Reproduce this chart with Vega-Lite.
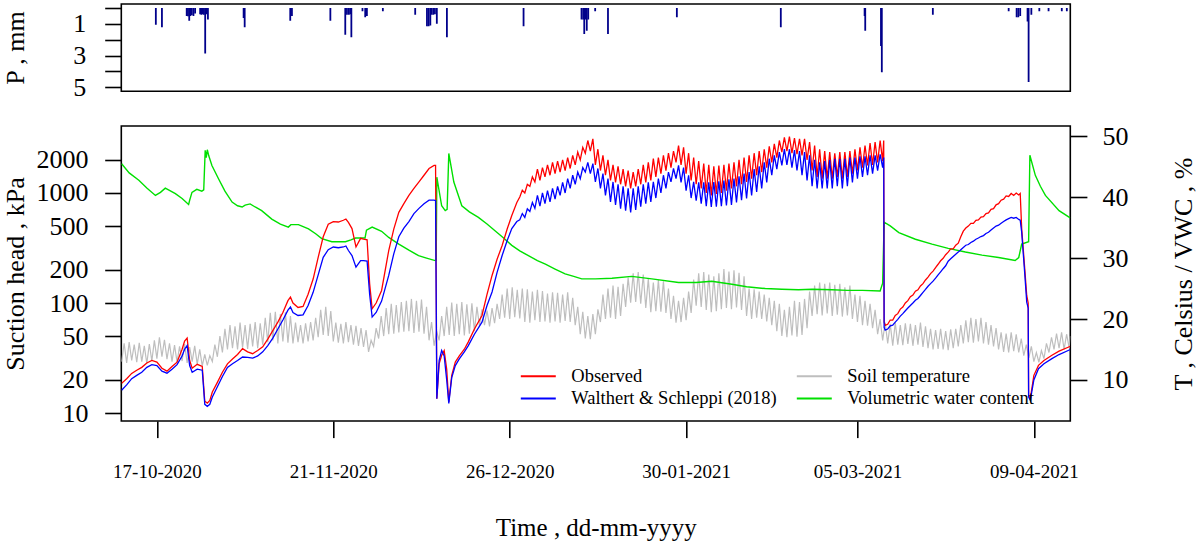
{
  "$schema": "https://vega.github.io/schema/vega-lite/v6.json",
  "padding": {"left": 1.3, "top": 3, "right": 0, "bottom": 0},
  "config": {
    "font": "Liberation Serif",
    "view": {"stroke": "black", "strokeWidth": 1.6},
    "axis": {
      "grid": false, "domain": false, "tickColor": "black", "tickWidth": 1.6, "tickSize": 16.6,
      "labelColor": "black", "titleColor": "black", "titleFontWeight": "normal",
      "labelFontSize": 26, "titleFontSize": 26, "labelFont": "Liberation Serif", "titleFont": "Liberation Serif"
    },
    "legend": {"labelFont": "Liberation Serif", "labelColor": "black"}
  },
  "datasets": {
    "rain": [
      {"t":"2020-10-16 19:00","p":1.05},{"t":"2020-10-18 00:00","p":1.22},
      {"t":"2020-10-22 22:00","p":0.5},{"t":"2020-10-23 04:00","p":0.52},{"t":"2020-10-23 10:00","p":0.8},{"t":"2020-10-23 16:00","p":0.5},{"t":"2020-10-23 22:00","p":0.45},{"t":"2020-10-24 06:00","p":0.5},{"t":"2020-10-24 14:00","p":0.35},
      {"t":"2020-10-25 14:00","p":0.4},{"t":"2020-10-25 20:00","p":0.42},{"t":"2020-10-26 02:00","p":0.4},{"t":"2020-10-26 08:00","p":0.42},{"t":"2020-10-26 14:00","p":2.87},{"t":"2020-10-26 20:00","p":0.4},{"t":"2020-10-27 03:00","p":0.73},
      {"t":"2020-11-03 05:00","p":0.63},{"t":"2020-11-03 10:00","p":1.22},
      {"t":"2020-11-12 11:00","p":0.8},{"t":"2020-11-12 19:00","p":0.5},
      {"t":"2020-11-20 10:00","p":0.8},
      {"t":"2020-11-23 09:00","p":1.68},{"t":"2020-11-23 17:00","p":0.42},{"t":"2020-11-24 02:00","p":0.42},{"t":"2020-11-24 09:00","p":0.4},{"t":"2020-11-24 14:00","p":1.85},
      {"t":"2020-11-26 19:00","p":0.21},{"t":"2020-11-27 08:00","p":0.58},{"t":"2020-11-27 16:00","p":0.5},
      {"t":"2020-11-30 20:00","p":0.2},
      {"t":"2020-12-07 06:00","p":0.42},
      {"t":"2020-12-09 14:00","p":1.15},{"t":"2020-12-09 22:00","p":1.15},{"t":"2020-12-10 06:00","p":1.1},{"t":"2020-12-10 12:00","p":0.42},{"t":"2020-12-10 20:00","p":0.42},{"t":"2020-12-11 04:00","p":0.4},{"t":"2020-12-11 13:00","p":1.0},
      {"t":"2020-12-13 13:00","p":1.85},
      {"t":"2020-12-28 18:00","p":1.15},
      {"t":"2021-01-09 06:00","p":0.73},{"t":"2021-01-09 14:00","p":0.73},{"t":"2021-01-09 19:00","p":1.64},{"t":"2021-01-10 02:00","p":0.73},{"t":"2021-01-10 07:00","p":1.43},{"t":"2021-01-10 14:00","p":0.73},
      {"t":"2021-01-11 23:00","p":0.2},
      {"t":"2021-01-14 12:00","p":1.64},
      {"t":"2021-01-28 04:00","p":0.58},
      {"t":"2021-02-17 19:00","p":1.22},
      {"t":"2021-03-06 10:00","p":0.5},{"t":"2021-03-06 13:00","p":1.43},
      {"t":"2021-03-09 16:00","p":2.4},{"t":"2021-03-09 20:00","p":4.05},
      {"t":"2021-03-19 23:00","p":0.42},
      {"t":"2021-04-04 00:00","p":0.2},
      {"t":"2021-04-05 14:00","p":0.58},{"t":"2021-04-05 22:00","p":0.58},{"t":"2021-04-06 07:00","p":0.5},
      {"t":"2021-04-07 18:00","p":0.85},{"t":"2021-04-07 23:00","p":4.66},{"t":"2021-04-08 12:00","p":0.42},
      {"t":"2021-04-10 02:00","p":0.2},{"t":"2021-04-11 22:00","p":0.2},{"t":"2021-04-14 13:00","p":0.2},{"t":"2021-04-15 13:00","p":0.2}
    ],
    "soil": [
      {"t":"2020-10-10 00:00","v":13.0},{"t":"2020-10-10 12:00","v":16.0},
      {"t":"2020-10-11 00:00","v":12.8},{"t":"2020-10-11 12:00","v":16.2},
      {"t":"2020-10-12 00:00","v":13.2},{"t":"2020-10-12 12:00","v":15.8},
      {"t":"2020-10-13 00:00","v":12.9},{"t":"2020-10-13 12:00","v":16.1},
      {"t":"2020-10-14 00:00","v":13.0},{"t":"2020-10-14 12:00","v":15.6},
      {"t":"2020-10-15 00:00","v":12.7},{"t":"2020-10-15 12:00","v":15.9},
      {"t":"2020-10-16 00:00","v":13.1},{"t":"2020-10-16 12:00","v":16.5},
      {"t":"2020-10-17 00:00","v":13.5},{"t":"2020-10-17 12:00","v":17.0},
      {"t":"2020-10-18 00:00","v":13.8},{"t":"2020-10-18 12:00","v":16.6},
      {"t":"2020-10-19 00:00","v":13.4},{"t":"2020-10-19 12:00","v":16.0},
      {"t":"2020-10-20 00:00","v":13.0},{"t":"2020-10-20 12:00","v":15.7},
      {"t":"2020-10-21 00:00","v":12.9},{"t":"2020-10-21 12:00","v":15.5},
      {"t":"2020-10-22 00:00","v":13.1},{"t":"2020-10-22 12:00","v":15.9},
      {"t":"2020-10-23 00:00","v":12.8},{"t":"2020-10-23 12:00","v":15.4},
      {"t":"2020-10-24 00:00","v":13.0},{"t":"2020-10-24 12:00","v":15.6},
      {"t":"2020-10-25 00:00","v":12.6},{"t":"2020-10-25 12:00","v":15.0},
      {"t":"2020-10-26 00:00","v":12.3},{"t":"2020-10-26 12:00","v":14.2},
      {"t":"2020-10-27 00:00","v":12.4},{"t":"2020-10-27 12:00","v":14.0},
      {"t":"2020-10-28 00:00","v":13.0},{"t":"2020-10-28 12:00","v":15.8},
      {"t":"2020-10-29 00:00","v":13.8},{"t":"2020-10-29 12:00","v":17.2},
      {"t":"2020-10-30 00:00","v":14.5},{"t":"2020-10-30 12:00","v":18.4},
      {"t":"2020-10-31 00:00","v":15.0},{"t":"2020-10-31 12:00","v":19.0},
      {"t":"2020-11-01 00:00","v":15.2},{"t":"2020-11-01 12:00","v":18.8},
      {"t":"2020-11-02 00:00","v":15.0},{"t":"2020-11-02 12:00","v":19.4},
      {"t":"2020-11-03 00:00","v":15.3},{"t":"2020-11-03 12:00","v":19.0},
      {"t":"2020-11-04 00:00","v":15.1},{"t":"2020-11-04 12:00","v":19.2},
      {"t":"2020-11-05 00:00","v":15.5},{"t":"2020-11-05 12:00","v":19.5},
      {"t":"2020-11-06 00:00","v":15.2},{"t":"2020-11-06 12:00","v":19.3},
      {"t":"2020-11-07 00:00","v":15.8},{"t":"2020-11-07 12:00","v":20.2},
      {"t":"2020-11-08 00:00","v":16.2},{"t":"2020-11-08 12:00","v":21.0},
      {"t":"2020-11-09 00:00","v":16.5},{"t":"2020-11-09 12:00","v":21.2},
      {"t":"2020-11-10 00:00","v":16.0},{"t":"2020-11-10 12:00","v":20.8},
      {"t":"2020-11-11 00:00","v":16.3},{"t":"2020-11-11 12:00","v":21.1},
      {"t":"2020-11-12 00:00","v":16.1},{"t":"2020-11-12 12:00","v":20.5},
      {"t":"2020-11-13 00:00","v":16.0},{"t":"2020-11-13 12:00","v":19.4},
      {"t":"2020-11-14 00:00","v":16.2},{"t":"2020-11-14 12:00","v":19.0},
      {"t":"2020-11-15 00:00","v":16.0},{"t":"2020-11-15 12:00","v":19.3},
      {"t":"2020-11-16 00:00","v":16.3},{"t":"2020-11-16 12:00","v":19.5},
      {"t":"2020-11-17 00:00","v":16.5},{"t":"2020-11-17 12:00","v":20.2},
      {"t":"2020-11-18 00:00","v":17.0},{"t":"2020-11-18 12:00","v":21.5},
      {"t":"2020-11-19 00:00","v":17.4},{"t":"2020-11-19 12:00","v":22.0},
      {"t":"2020-11-20 00:00","v":17.2},{"t":"2020-11-20 12:00","v":21.3},
      {"t":"2020-11-21 00:00","v":16.3},{"t":"2020-11-21 12:00","v":19.4},
      {"t":"2020-11-22 00:00","v":16.1},{"t":"2020-11-22 12:00","v":19.2},
      {"t":"2020-11-23 00:00","v":16.0},{"t":"2020-11-23 12:00","v":19.5},
      {"t":"2020-11-24 00:00","v":16.2},{"t":"2020-11-24 12:00","v":19.0},
      {"t":"2020-11-25 00:00","v":15.8},{"t":"2020-11-25 12:00","v":18.9},
      {"t":"2020-11-26 00:00","v":15.6},{"t":"2020-11-26 12:00","v":18.5},
      {"t":"2020-11-27 00:00","v":15.4},{"t":"2020-11-27 12:00","v":18.2},
      {"t":"2020-11-28 00:00","v":14.6},{"t":"2020-11-28 12:00","v":16.5},
      {"t":"2020-11-29 00:00","v":15.5},{"t":"2020-11-29 12:00","v":18.5},
      {"t":"2020-11-30 00:00","v":16.8},{"t":"2020-11-30 12:00","v":20.5},
      {"t":"2020-12-01 00:00","v":17.2},{"t":"2020-12-01 12:00","v":21.8},
      {"t":"2020-12-02 00:00","v":17.5},{"t":"2020-12-02 12:00","v":22.5},
      {"t":"2020-12-03 00:00","v":17.6},{"t":"2020-12-03 12:00","v":22.3},
      {"t":"2020-12-04 00:00","v":17.8},{"t":"2020-12-04 12:00","v":22.8},
      {"t":"2020-12-05 00:00","v":17.9},{"t":"2020-12-05 12:00","v":23.0},
      {"t":"2020-12-06 00:00","v":18.0},{"t":"2020-12-06 12:00","v":23.3},
      {"t":"2020-12-07 00:00","v":17.7},{"t":"2020-12-07 12:00","v":23.0},
      {"t":"2020-12-08 00:00","v":17.9},{"t":"2020-12-08 12:00","v":23.2},
      {"t":"2020-12-09 00:00","v":17.6},{"t":"2020-12-09 12:00","v":22.0},
      {"t":"2020-12-10 00:00","v":16.5},{"t":"2020-12-10 12:00","v":19.5},
      {"t":"2020-12-11 00:00","v":15.6},{"t":"2020-12-11 12:00","v":18.0},
      {"t":"2020-12-12 00:00","v":16.5},{"t":"2020-12-12 12:00","v":20.5},
      {"t":"2020-12-13 00:00","v":17.2},{"t":"2020-12-13 12:00","v":22.0},
      {"t":"2020-12-14 00:00","v":17.4},{"t":"2020-12-14 12:00","v":22.7},
      {"t":"2020-12-15 00:00","v":17.2},{"t":"2020-12-15 12:00","v":22.5},
      {"t":"2020-12-16 00:00","v":17.5},{"t":"2020-12-16 12:00","v":22.8},
      {"t":"2020-12-17 00:00","v":17.3},{"t":"2020-12-17 12:00","v":22.4},
      {"t":"2020-12-18 00:00","v":17.6},{"t":"2020-12-18 12:00","v":22.6},
      {"t":"2020-12-19 00:00","v":18.0},{"t":"2020-12-19 12:00","v":22.0},
      {"t":"2020-12-20 00:00","v":18.9},{"t":"2020-12-20 12:00","v":21.6},
      {"t":"2020-12-21 00:00","v":19.0},{"t":"2020-12-21 12:00","v":21.4},
      {"t":"2020-12-22 00:00","v":18.8},{"t":"2020-12-22 12:00","v":21.8},
      {"t":"2020-12-23 00:00","v":19.3},{"t":"2020-12-23 12:00","v":22.5},
      {"t":"2020-12-24 00:00","v":20.0},{"t":"2020-12-24 12:00","v":24.0},
      {"t":"2020-12-25 00:00","v":20.2},{"t":"2020-12-25 12:00","v":25.0},
      {"t":"2020-12-26 00:00","v":20.0},{"t":"2020-12-26 12:00","v":25.2},
      {"t":"2020-12-27 00:00","v":20.3},{"t":"2020-12-27 12:00","v":24.8},
      {"t":"2020-12-28 00:00","v":20.1},{"t":"2020-12-28 12:00","v":25.0},
      {"t":"2020-12-29 00:00","v":19.5},{"t":"2020-12-29 12:00","v":24.9},
      {"t":"2020-12-30 00:00","v":19.4},{"t":"2020-12-30 12:00","v":24.5},
      {"t":"2020-12-31 00:00","v":19.8},{"t":"2020-12-31 12:00","v":24.8},
      {"t":"2021-01-01 00:00","v":19.5},{"t":"2021-01-01 12:00","v":24.6},
      {"t":"2021-01-02 00:00","v":19.6},{"t":"2021-01-02 12:00","v":24.2},
      {"t":"2021-01-03 00:00","v":19.4},{"t":"2021-01-03 12:00","v":24.4},
      {"t":"2021-01-04 00:00","v":19.6},{"t":"2021-01-04 12:00","v":24.3},
      {"t":"2021-01-05 00:00","v":19.4},{"t":"2021-01-05 12:00","v":24.0},
      {"t":"2021-01-06 00:00","v":19.7},{"t":"2021-01-06 12:00","v":24.4},
      {"t":"2021-01-07 00:00","v":19.5},{"t":"2021-01-07 12:00","v":23.5},
      {"t":"2021-01-08 00:00","v":19.0},{"t":"2021-01-08 12:00","v":22.0},
      {"t":"2021-01-09 00:00","v":17.5},{"t":"2021-01-09 12:00","v":21.2},
      {"t":"2021-01-10 00:00","v":16.8},{"t":"2021-01-10 12:00","v":20.5},
      {"t":"2021-01-11 00:00","v":16.7},{"t":"2021-01-11 12:00","v":20.8},
      {"t":"2021-01-12 00:00","v":17.5},{"t":"2021-01-12 12:00","v":21.6},
      {"t":"2021-01-13 00:00","v":19.5},{"t":"2021-01-13 12:00","v":24.0},
      {"t":"2021-01-14 00:00","v":20.0},{"t":"2021-01-14 12:00","v":25.0},
      {"t":"2021-01-15 00:00","v":20.2},{"t":"2021-01-15 12:00","v":25.5},
      {"t":"2021-01-16 00:00","v":20.0},{"t":"2021-01-16 12:00","v":25.3},
      {"t":"2021-01-17 00:00","v":20.5},{"t":"2021-01-17 12:00","v":25.8},
      {"t":"2021-01-18 00:00","v":22.0},{"t":"2021-01-18 12:00","v":26.8},
      {"t":"2021-01-19 00:00","v":22.7},{"t":"2021-01-19 12:00","v":27.5},
      {"t":"2021-01-20 00:00","v":22.8},{"t":"2021-01-20 12:00","v":27.7},
      {"t":"2021-01-21 00:00","v":22.5},{"t":"2021-01-21 12:00","v":27.3},
      {"t":"2021-01-22 00:00","v":21.8},{"t":"2021-01-22 12:00","v":26.6},
      {"t":"2021-01-23 00:00","v":21.1},{"t":"2021-01-23 12:00","v":26.0},
      {"t":"2021-01-24 00:00","v":21.3},{"t":"2021-01-24 12:00","v":26.4},
      {"t":"2021-01-25 00:00","v":21.2},{"t":"2021-01-25 12:00","v":26.2},
      {"t":"2021-01-26 00:00","v":21.0},{"t":"2021-01-26 12:00","v":25.0},
      {"t":"2021-01-27 00:00","v":20.0},{"t":"2021-01-27 12:00","v":23.8},
      {"t":"2021-01-28 00:00","v":19.4},{"t":"2021-01-28 12:00","v":23.0},
      {"t":"2021-01-29 00:00","v":19.5},{"t":"2021-01-29 12:00","v":23.5},
      {"t":"2021-01-30 00:00","v":19.8},{"t":"2021-01-30 12:00","v":24.5},
      {"t":"2021-01-31 00:00","v":21.0},{"t":"2021-01-31 12:00","v":26.5},
      {"t":"2021-02-01 00:00","v":22.2},{"t":"2021-02-01 12:00","v":27.5},
      {"t":"2021-02-02 00:00","v":22.0},{"t":"2021-02-02 12:00","v":27.7},
      {"t":"2021-02-03 00:00","v":21.5},{"t":"2021-02-03 12:00","v":27.3},
      {"t":"2021-02-04 00:00","v":21.1},{"t":"2021-02-04 12:00","v":27.0},
      {"t":"2021-02-05 00:00","v":21.3},{"t":"2021-02-05 12:00","v":27.5},
      {"t":"2021-02-06 00:00","v":21.6},{"t":"2021-02-06 12:00","v":28.2},
      {"t":"2021-02-07 00:00","v":21.8},{"t":"2021-02-07 12:00","v":27.8},
      {"t":"2021-02-08 00:00","v":21.6},{"t":"2021-02-08 12:00","v":28.0},
      {"t":"2021-02-09 00:00","v":21.9},{"t":"2021-02-09 12:00","v":27.6},
      {"t":"2021-02-10 00:00","v":21.5},{"t":"2021-02-10 12:00","v":27.0},
      {"t":"2021-02-11 00:00","v":20.5},{"t":"2021-02-11 12:00","v":25.0},
      {"t":"2021-02-12 00:00","v":20.0},{"t":"2021-02-12 12:00","v":24.9},
      {"t":"2021-02-13 00:00","v":20.2},{"t":"2021-02-13 12:00","v":24.5},
      {"t":"2021-02-14 00:00","v":20.0},{"t":"2021-02-14 12:00","v":24.0},
      {"t":"2021-02-15 00:00","v":19.6},{"t":"2021-02-15 12:00","v":23.5},
      {"t":"2021-02-16 00:00","v":19.0},{"t":"2021-02-16 12:00","v":23.0},
      {"t":"2021-02-17 00:00","v":18.0},{"t":"2021-02-17 12:00","v":22.5},
      {"t":"2021-02-18 00:00","v":17.2},{"t":"2021-02-18 12:00","v":21.5},
      {"t":"2021-02-19 00:00","v":17.0},{"t":"2021-02-19 12:00","v":22.0},
      {"t":"2021-02-20 00:00","v":17.3},{"t":"2021-02-20 12:00","v":23.0},
      {"t":"2021-02-21 00:00","v":17.1},{"t":"2021-02-21 12:00","v":22.8},
      {"t":"2021-02-22 00:00","v":17.4},{"t":"2021-02-22 12:00","v":23.3},
      {"t":"2021-02-23 00:00","v":18.5},{"t":"2021-02-23 12:00","v":24.5},
      {"t":"2021-02-24 00:00","v":20.5},{"t":"2021-02-24 12:00","v":25.5},
      {"t":"2021-02-25 00:00","v":20.8},{"t":"2021-02-25 12:00","v":26.0},
      {"t":"2021-02-26 00:00","v":20.6},{"t":"2021-02-26 12:00","v":25.8},
      {"t":"2021-02-27 00:00","v":20.9},{"t":"2021-02-27 12:00","v":26.0},
      {"t":"2021-02-28 00:00","v":20.5},{"t":"2021-02-28 12:00","v":25.6},
      {"t":"2021-03-01 00:00","v":20.7},{"t":"2021-03-01 12:00","v":25.8},
      {"t":"2021-03-02 00:00","v":20.4},{"t":"2021-03-02 12:00","v":25.2},
      {"t":"2021-03-03 00:00","v":20.6},{"t":"2021-03-03 12:00","v":25.5},
      {"t":"2021-03-04 00:00","v":20.0},{"t":"2021-03-04 12:00","v":24.0},
      {"t":"2021-03-05 00:00","v":19.5},{"t":"2021-03-05 12:00","v":23.8},
      {"t":"2021-03-06 00:00","v":19.0},{"t":"2021-03-06 12:00","v":23.0},
      {"t":"2021-03-07 00:00","v":18.9},{"t":"2021-03-07 12:00","v":22.5},
      {"t":"2021-03-08 00:00","v":18.5},{"t":"2021-03-08 12:00","v":21.5},
      {"t":"2021-03-09 00:00","v":17.5},{"t":"2021-03-09 12:00","v":20.0},
      {"t":"2021-03-10 00:00","v":16.5},{"t":"2021-03-10 12:00","v":19.4},
      {"t":"2021-03-11 00:00","v":16.0},{"t":"2021-03-11 12:00","v":19.2},
      {"t":"2021-03-12 00:00","v":15.6},{"t":"2021-03-12 12:00","v":19.4},
      {"t":"2021-03-13 00:00","v":15.8},{"t":"2021-03-13 12:00","v":19.0},
      {"t":"2021-03-14 00:00","v":15.7},{"t":"2021-03-14 12:00","v":19.3},
      {"t":"2021-03-15 00:00","v":15.9},{"t":"2021-03-15 12:00","v":19.2},
      {"t":"2021-03-16 00:00","v":15.6},{"t":"2021-03-16 12:00","v":19.0},
      {"t":"2021-03-17 00:00","v":15.8},{"t":"2021-03-17 12:00","v":19.4},
      {"t":"2021-03-18 00:00","v":15.4},{"t":"2021-03-18 12:00","v":18.8},
      {"t":"2021-03-19 00:00","v":15.2},{"t":"2021-03-19 12:00","v":18.4},
      {"t":"2021-03-20 00:00","v":15.0},{"t":"2021-03-20 12:00","v":18.2},
      {"t":"2021-03-21 00:00","v":15.1},{"t":"2021-03-21 12:00","v":18.4},
      {"t":"2021-03-22 00:00","v":15.0},{"t":"2021-03-22 12:00","v":18.0},
      {"t":"2021-03-23 00:00","v":14.9},{"t":"2021-03-23 12:00","v":18.3},
      {"t":"2021-03-24 00:00","v":15.2},{"t":"2021-03-24 12:00","v":18.4},
      {"t":"2021-03-25 00:00","v":15.5},{"t":"2021-03-25 12:00","v":19.0},
      {"t":"2021-03-26 00:00","v":16.0},{"t":"2021-03-26 12:00","v":19.8},
      {"t":"2021-03-27 00:00","v":16.2},{"t":"2021-03-27 12:00","v":20.2},
      {"t":"2021-03-28 00:00","v":16.1},{"t":"2021-03-28 12:00","v":20.0},
      {"t":"2021-03-29 00:00","v":16.3},{"t":"2021-03-29 12:00","v":20.2},
      {"t":"2021-03-30 00:00","v":16.0},{"t":"2021-03-30 12:00","v":19.5},
      {"t":"2021-03-31 00:00","v":15.8},{"t":"2021-03-31 12:00","v":19.0},
      {"t":"2021-04-01 00:00","v":15.5},{"t":"2021-04-01 12:00","v":18.5},
      {"t":"2021-04-02 00:00","v":15.0},{"t":"2021-04-02 12:00","v":17.8},
      {"t":"2021-04-03 00:00","v":14.6},{"t":"2021-04-03 12:00","v":17.6},
      {"t":"2021-04-04 00:00","v":14.5},{"t":"2021-04-04 12:00","v":17.8},
      {"t":"2021-04-05 00:00","v":14.7},{"t":"2021-04-05 12:00","v":17.5},
      {"t":"2021-04-06 00:00","v":14.5},{"t":"2021-04-06 12:00","v":16.8},
      {"t":"2021-04-07 00:00","v":14.0},{"t":"2021-04-07 12:00","v":15.8},
      {"t":"2021-04-08 00:00","v":13.6},{"t":"2021-04-08 12:00","v":15.5},
      {"t":"2021-04-09 00:00","v":13.0},{"t":"2021-04-09 12:00","v":14.5},
      {"t":"2021-04-10 00:00","v":12.9},{"t":"2021-04-10 12:00","v":14.8},
      {"t":"2021-04-11 00:00","v":13.5},{"t":"2021-04-11 12:00","v":16.0},
      {"t":"2021-04-12 00:00","v":14.5},{"t":"2021-04-12 12:00","v":17.0},
      {"t":"2021-04-13 00:00","v":15.0},{"t":"2021-04-13 12:00","v":17.6},
      {"t":"2021-04-14 00:00","v":15.2},{"t":"2021-04-14 12:00","v":17.8},
      {"t":"2021-04-15 00:00","v":15.0},{"t":"2021-04-15 12:00","v":17.5},
      {"t":"2021-04-16 00:00","v":15.3},{"t":"2021-04-16 06:00","v":17.2}
    ],
    "vwc": [
      {"t":"2020-10-10 00:00","v":45.5},{"t":"2020-10-11 12:00","v":44.0},{"t":"2020-10-13 10:00","v":42.8},{"t":"2020-10-15 00:00","v":41.5},
      {"t":"2020-10-16 17:00","v":40.3},{"t":"2020-10-17 17:00","v":40.8},{"t":"2020-10-18 16:00","v":41.5},{"t":"2020-10-20 16:00","v":40.6},
      {"t":"2020-10-22 00:00","v":39.8},{"t":"2020-10-23 07:00","v":38.8},{"t":"2020-10-23 12:00","v":39.5},{"t":"2020-10-23 23:00","v":40.8},
      {"t":"2020-10-24 22:00","v":41.3},{"t":"2020-10-25 22:00","v":41.0},{"t":"2020-10-26 07:00","v":41.2},{"t":"2020-10-26 14:00","v":47.7},
      {"t":"2020-10-26 19:00","v":46.5},{"t":"2020-10-27 00:00","v":47.8},{"t":"2020-10-27 07:00","v":46.8},{"t":"2020-10-27 22:00","v":45.2},
      {"t":"2020-10-29 06:00","v":43.0},{"t":"2020-10-30 12:00","v":41.0},{"t":"2020-10-31 22:00","v":39.2},{"t":"2020-11-02 00:00","v":38.6},
      {"t":"2020-11-02 22:00","v":38.4},{"t":"2020-11-03 12:00","v":38.7},{"t":"2020-11-04 12:00","v":38.9},{"t":"2020-11-05 12:00","v":38.4},
      {"t":"2020-11-06 19:00","v":37.8},{"t":"2020-11-08 19:00","v":36.4},{"t":"2020-11-10 12:00","v":35.6},{"t":"2020-11-12 02:00","v":35.1},
      {"t":"2020-11-12 14:00","v":35.5},{"t":"2020-11-14 02:00","v":35.5},{"t":"2020-11-16 02:00","v":34.8},{"t":"2020-11-17 12:00","v":34.0},
      {"t":"2020-11-18 17:00","v":33.2},{"t":"2020-11-20 17:00","v":32.7},{"t":"2020-11-23 10:00","v":32.7},{"t":"2020-11-24 12:00","v":33.0},
      {"t":"2020-11-25 10:00","v":33.3},{"t":"2020-11-27 07:00","v":33.3},{"t":"2020-11-27 14:00","v":34.6},{"t":"2020-11-28 17:00","v":35.1},
      {"t":"2020-11-30 14:00","v":34.4},{"t":"2020-12-02 00:00","v":33.4},{"t":"2020-12-04 00:00","v":32.3},{"t":"2020-12-06 00:00","v":31.3},
      {"t":"2020-12-07 22:00","v":30.4},{"t":"2020-12-09 12:00","v":30.0},{"t":"2020-12-11 05:00","v":29.6},{"t":"2020-12-11 10:00","v":29.7},
      {"t":"2020-12-11 13:00","v":43.3},{"t":"2020-12-12 12:00","v":38.6},{"t":"2020-12-13 05:00","v":37.8},{"t":"2020-12-13 14:00","v":38.0},
      {"t":"2020-12-13 22:00","v":47.2},{"t":"2020-12-14 22:00","v":42.5},{"t":"2020-12-16 12:00","v":38.6},{"t":"2020-12-18 00:00","v":37.6},
      {"t":"2020-12-19 19:00","v":36.7},{"t":"2020-12-21 12:00","v":35.6},{"t":"2020-12-23 02:00","v":34.5},{"t":"2020-12-24 19:00","v":33.3},
      {"t":"2020-12-26 10:00","v":32.1},{"t":"2020-12-28 00:00","v":31.2},{"t":"2020-12-29 17:00","v":30.4},{"t":"2020-12-31 12:00","v":29.6},
      {"t":"2021-01-02 02:00","v":29.0},{"t":"2021-01-04 00:00","v":28.2},{"t":"2021-01-06 00:00","v":27.4},{"t":"2021-01-07 17:00","v":27.0},
      {"t":"2021-01-09 07:00","v":26.6},{"t":"2021-01-12 00:00","v":26.6},{"t":"2021-01-15 07:00","v":26.7},{"t":"2021-01-19 05:00","v":27.0},
      {"t":"2021-01-23 05:00","v":26.6},{"t":"2021-01-28 12:00","v":26.0},{"t":"2021-02-01 00:00","v":26.0},{"t":"2021-02-04 02:00","v":26.2},
      {"t":"2021-02-08 02:00","v":25.7},{"t":"2021-02-11 00:00","v":25.3},{"t":"2021-02-14 17:00","v":25.0},{"t":"2021-02-18 00:00","v":24.9},
      {"t":"2021-02-21 07:00","v":24.8},{"t":"2021-02-24 00:00","v":24.9},{"t":"2021-02-27 22:00","v":24.8},{"t":"2021-03-03 00:00","v":24.7},
      {"t":"2021-03-06 00:00","v":24.7},{"t":"2021-03-09 12:00","v":24.6},{"t":"2021-03-10 00:00","v":25.9},{"t":"2021-03-10 07:00","v":35.9},
      {"t":"2021-03-11 12:00","v":35.3},{"t":"2021-03-13 05:00","v":34.2},{"t":"2021-03-16 12:00","v":33.1},{"t":"2021-03-19 19:00","v":32.3},
      {"t":"2021-03-23 00:00","v":31.6},{"t":"2021-03-26 10:00","v":31.0},{"t":"2021-03-29 17:00","v":30.5},{"t":"2021-04-02 00:00","v":30.1},
      {"t":"2021-04-05 07:00","v":29.6},{"t":"2021-04-06 00:00","v":30.1},{"t":"2021-04-06 14:00","v":32.3},{"t":"2021-04-07 23:00","v":32.7},
      {"t":"2021-04-08 05:00","v":46.9},{"t":"2021-04-09 07:00","v":43.6},{"t":"2021-04-10 07:00","v":41.8},{"t":"2021-04-11 07:00","v":40.3},
      {"t":"2021-04-14 00:00","v":37.8},{"t":"2021-04-16 05:00","v":36.6}
    ],
    "suc": [
      {"t":"2020-10-10 00:00","o":18.6,"w":16.1},{"t":"2020-10-11 00:00","o":20.5,"w":18},{"t":"2020-10-12 00:00","o":22.9,"w":20.5},
      {"t":"2020-10-13 00:00","o":24.5,"w":22},{"t":"2020-10-14 00:00","o":26,"w":23.5},{"t":"2020-10-15 00:00","o":28.5,"w":26},
      {"t":"2020-10-16 00:00","o":30.1,"w":27.5},{"t":"2020-10-17 00:00","o":29,"w":27},{"t":"2020-10-18 00:00","o":25.5,"w":24},
      {"t":"2020-10-19 00:00","o":24,"w":23},{"t":"2020-10-20 00:00","o":26.5,"w":25},{"t":"2020-10-21 00:00","o":29,"w":27.5},
      {"t":"2020-10-22 00:00","o":38,"w":33},{"t":"2020-10-22 12:00","o":45,"w":38},{"t":"2020-10-23 00:00","o":48,"w":41},
      {"t":"2020-10-23 12:00","o":30,"w":27},{"t":"2020-10-24 00:00","o":25.5,"w":23.5},{"t":"2020-10-25 00:00","o":27.7,"w":25},
      {"t":"2020-10-26 00:00","o":26.5,"w":24.5},{"t":"2020-10-26 12:00","o":12.8,"w":12},{"t":"2020-10-27 00:00","o":12.3,"w":11.5},
      {"t":"2020-10-27 12:00","o":13,"w":12},{"t":"2020-10-28 00:00","o":15.5,"w":14},{"t":"2020-10-29 00:00","o":19,"w":17.3},
      {"t":"2020-10-30 00:00","o":23.5,"w":21.5},{"t":"2020-10-31 00:00","o":28,"w":26},{"t":"2020-11-01 00:00","o":31,"w":28},
      {"t":"2020-11-02 00:00","o":34,"w":30},{"t":"2020-11-03 00:00","o":38.5,"w":32.3},{"t":"2020-11-04 00:00","o":36,"w":32},
      {"t":"2020-11-05 00:00","o":34.6,"w":31.5},{"t":"2020-11-06 00:00","o":37,"w":33},{"t":"2020-11-07 00:00","o":40,"w":36},
      {"t":"2020-11-08 00:00","o":47,"w":41},{"t":"2020-11-09 00:00","o":56,"w":48},{"t":"2020-11-10 00:00","o":67,"w":58},
      {"t":"2020-11-11 00:00","o":82,"w":70},{"t":"2020-11-12 00:00","o":105,"w":86},{"t":"2020-11-12 12:00","o":113,"w":92},
      {"t":"2020-11-13 00:00","o":100,"w":82},{"t":"2020-11-14 00:00","o":91,"w":77},{"t":"2020-11-15 00:00","o":93,"w":78},
      {"t":"2020-11-16 00:00","o":120,"w":95},{"t":"2020-11-17 00:00","o":165,"w":125},{"t":"2020-11-18 00:00","o":260,"w":180},
      {"t":"2020-11-19 00:00","o":400,"w":260},{"t":"2020-11-20 00:00","o":520,"w":305},{"t":"2020-11-21 00:00","o":550,"w":323},
      {"t":"2020-11-22 00:00","o":545,"w":318},{"t":"2020-11-23 00:00","o":565,"w":323},{"t":"2020-11-23 12:00","o":580,"w":330},
      {"t":"2020-11-24 00:00","o":540,"w":300},{"t":"2020-11-24 17:00","o":475,"w":270},{"t":"2020-11-25 12:00","o":323,"w":212},
      {"t":"2020-11-26 10:00","o":387,"w":243},{"t":"2020-11-27 00:00","o":380,"w":243},{"t":"2020-11-27 17:00","o":375,"w":240},
      {"t":"2020-11-28 05:00","o":150,"w":120},{"t":"2020-11-28 17:00","o":88.6,"w":74.5},{"t":"2020-11-29 12:00","o":100,"w":82},
      {"t":"2020-11-30 14:00","o":130,"w":104},{"t":"2020-12-02 00:00","o":300,"w":178},{"t":"2020-12-03 00:00","o":470,"w":280},
      {"t":"2020-12-04 00:00","o":667,"w":400},{"t":"2020-12-05 00:00","o":800,"w":480},{"t":"2020-12-06 00:00","o":950,"w":550},
      {"t":"2020-12-07 00:00","o":1100,"w":650},{"t":"2020-12-08 00:00","o":1260,"w":725},{"t":"2020-12-09 00:00","o":1450,"w":800},
      {"t":"2020-12-10 00:00","o":1670,"w":860},{"t":"2020-12-11 00:00","o":1780,"w":860},{"t":"2020-12-11 07:00","o":1780,"w":850},
      {"t":"2020-12-11 13:00","o":13.5,"w":13.5},{"t":"2020-12-12 00:00","o":28,"w":30},{"t":"2020-12-12 12:00","o":33.5,"w":37},
      {"t":"2020-12-13 00:00","o":37,"w":33},{"t":"2020-12-13 12:00","o":25,"w":20},{"t":"2020-12-13 22:00","o":12.6,"w":12.2},
      {"t":"2020-12-14 12:00","o":22,"w":21},{"t":"2020-12-15 05:00","o":29,"w":27},{"t":"2020-12-16 00:00","o":33,"w":31},
      {"t":"2020-12-17 00:00","o":38,"w":36},{"t":"2020-12-17 19:00","o":44.3,"w":41},{"t":"2020-12-19 00:00","o":58,"w":52},
      {"t":"2020-12-20 12:00","o":77,"w":67},{"t":"2020-12-21 12:00","o":120,"w":95},{"t":"2020-12-22 12:00","o":178,"w":126},
      {"t":"2020-12-23 12:00","o":250,"w":190},{"t":"2020-12-24 12:00","o":333,"w":270},{"t":"2020-12-25 12:00","o":470,"w":370},
      {"t":"2020-12-26 10:00","o":625,"w":475},{"t":"2020-12-27 10:00","o":820,"w":550},
      {"t":"2020-12-28 00:00","o":920,"w":570},{"t":"2020-12-28 12:00","o":1060,"w":650},
      {"t":"2020-12-29 00:00","o":1000,"w":600},{"t":"2020-12-29 12:00","o":1200,"w":720},
      {"t":"2020-12-30 00:00","o":1150,"w":680},{"t":"2020-12-30 12:00","o":1400,"w":820},
      {"t":"2020-12-31 00:00","o":1260,"w":725},{"t":"2020-12-31 12:00","o":1650,"w":950},
      {"t":"2021-01-01 00:00","o":1300,"w":760},{"t":"2021-01-01 12:00","o":1700,"w":1000},
      {"t":"2021-01-02 00:00","o":1400,"w":800},{"t":"2021-01-02 12:00","o":1800,"w":1050},
      {"t":"2021-01-03 00:00","o":1450,"w":830},{"t":"2021-01-03 12:00","o":1900,"w":1100},
      {"t":"2021-01-04 00:00","o":1500,"w":880},{"t":"2021-01-04 12:00","o":1950,"w":1150},
      {"t":"2021-01-05 00:00","o":1550,"w":950},{"t":"2021-01-05 12:00","o":2000,"w":1250},
      {"t":"2021-01-06 00:00","o":1600,"w":1000},{"t":"2021-01-06 12:00","o":2100,"w":1350},
      {"t":"2021-01-07 00:00","o":1670,"w":1100},{"t":"2021-01-07 12:00","o":2200,"w":1450},
      {"t":"2021-01-08 00:00","o":1800,"w":1200},{"t":"2021-01-08 12:00","o":2350,"w":1550},
      {"t":"2021-01-09 00:00","o":2000,"w":1350},{"t":"2021-01-09 12:00","o":2600,"w":1700},
      {"t":"2021-01-10 00:00","o":2300,"w":1550},{"t":"2021-01-10 12:00","o":3000,"w":1900},
      {"t":"2021-01-11 00:00","o":2400,"w":1500},{"t":"2021-01-11 12:00","o":3100,"w":1850},
      {"t":"2021-01-12 00:00","o":1800,"w":1260},{"t":"2021-01-12 12:00","o":2500,"w":1670},
      {"t":"2021-01-13 00:00","o":1600,"w":1100},{"t":"2021-01-13 12:00","o":2200,"w":1500},
      {"t":"2021-01-14 00:00","o":1450,"w":950},{"t":"2021-01-14 12:00","o":2000,"w":1350},
      {"t":"2021-01-15 00:00","o":1300,"w":830},{"t":"2021-01-15 12:00","o":1800,"w":1260},
      {"t":"2021-01-16 00:00","o":1250,"w":780},{"t":"2021-01-16 12:00","o":1750,"w":1200},
      {"t":"2021-01-17 00:00","o":1200,"w":720},{"t":"2021-01-17 12:00","o":1650,"w":1150},
      {"t":"2021-01-18 00:00","o":1150,"w":690},{"t":"2021-01-18 12:00","o":1600,"w":1100},
      {"t":"2021-01-19 00:00","o":1100,"w":667},{"t":"2021-01-19 12:00","o":1550,"w":1100},
      {"t":"2021-01-20 00:00","o":1150,"w":700},{"t":"2021-01-20 12:00","o":1650,"w":1150},
      {"t":"2021-01-21 00:00","o":1200,"w":750},{"t":"2021-01-21 12:00","o":1800,"w":1200},
      {"t":"2021-01-22 00:00","o":1250,"w":800},{"t":"2021-01-22 12:00","o":1900,"w":1250},
      {"t":"2021-01-23 00:00","o":1300,"w":830},{"t":"2021-01-23 12:00","o":2050,"w":1260},
      {"t":"2021-01-24 00:00","o":1400,"w":900},{"t":"2021-01-24 12:00","o":2100,"w":1350},
      {"t":"2021-01-25 00:00","o":1500,"w":1000},{"t":"2021-01-25 12:00","o":2200,"w":1450},
      {"t":"2021-01-26 00:00","o":1600,"w":1100},{"t":"2021-01-26 12:00","o":2300,"w":1550},
      {"t":"2021-01-27 00:00","o":1700,"w":1260},{"t":"2021-01-27 12:00","o":2400,"w":1670},
      {"t":"2021-01-28 00:00","o":1900,"w":1350},{"t":"2021-01-28 12:00","o":2700,"w":1780},
      {"t":"2021-01-29 00:00","o":1800,"w":1250},{"t":"2021-01-29 12:00","o":2600,"w":1700},
      {"t":"2021-01-30 00:00","o":1500,"w":1050},{"t":"2021-01-30 12:00","o":2300,"w":1450},
      {"t":"2021-01-31 00:00","o":1300,"w":900},{"t":"2021-01-31 12:00","o":2100,"w":1260},
      {"t":"2021-02-01 00:00","o":1200,"w":850},{"t":"2021-02-01 12:00","o":1950,"w":1250},
      {"t":"2021-02-02 00:00","o":1100,"w":800},{"t":"2021-02-02 12:00","o":1850,"w":1250},
      {"t":"2021-02-03 00:00","o":1000,"w":760},{"t":"2021-02-03 12:00","o":1800,"w":1250},
      {"t":"2021-02-04 00:00","o":950,"w":745},{"t":"2021-02-04 12:00","o":1750,"w":1260},
      {"t":"2021-02-05 00:00","o":980,"w":750},{"t":"2021-02-05 12:00","o":1780,"w":1280},
      {"t":"2021-02-06 00:00","o":1000,"w":760},{"t":"2021-02-06 12:00","o":1800,"w":1300},
      {"t":"2021-02-07 00:00","o":1050,"w":770},{"t":"2021-02-07 12:00","o":1850,"w":1330},
      {"t":"2021-02-08 00:00","o":1100,"w":780},{"t":"2021-02-08 12:00","o":1900,"w":1350},
      {"t":"2021-02-09 00:00","o":1150,"w":820},{"t":"2021-02-09 12:00","o":2000,"w":1420},
      {"t":"2021-02-10 00:00","o":1200,"w":860},{"t":"2021-02-10 12:00","o":2100,"w":1500},
      {"t":"2021-02-11 00:00","o":1260,"w":890},{"t":"2021-02-11 12:00","o":2200,"w":1550},
      {"t":"2021-02-12 00:00","o":1350,"w":950},{"t":"2021-02-12 12:00","o":2300,"w":1650},
      {"t":"2021-02-13 00:00","o":1450,"w":1020},{"t":"2021-02-13 12:00","o":2400,"w":1750},
      {"t":"2021-02-14 00:00","o":1550,"w":1100},{"t":"2021-02-14 12:00","o":2500,"w":1900},
      {"t":"2021-02-15 00:00","o":1700,"w":1250},{"t":"2021-02-15 12:00","o":2650,"w":2050},
      {"t":"2021-02-16 00:00","o":1900,"w":1450},{"t":"2021-02-16 12:00","o":2800,"w":2200},
      {"t":"2021-02-17 00:00","o":2100,"w":1650},{"t":"2021-02-17 12:00","o":3000,"w":2350},
      {"t":"2021-02-18 00:00","o":2350,"w":1780},{"t":"2021-02-18 12:00","o":3200,"w":2500},
      {"t":"2021-02-19 00:00","o":2400,"w":1800},{"t":"2021-02-19 12:00","o":3250,"w":2500},
      {"t":"2021-02-20 00:00","o":2300,"w":1700},{"t":"2021-02-20 12:00","o":3150,"w":2450},
      {"t":"2021-02-21 00:00","o":2250,"w":1600},{"t":"2021-02-21 12:00","o":3100,"w":2400},
      {"t":"2021-02-22 00:00","o":2200,"w":1450},{"t":"2021-02-22 12:00","o":3100,"w":2350},
      {"t":"2021-02-23 00:00","o":2000,"w":1300},{"t":"2021-02-23 12:00","o":2900,"w":2200},
      {"t":"2021-02-24 00:00","o":1600,"w":1150},{"t":"2021-02-24 12:00","o":2700,"w":2000},
      {"t":"2021-02-25 00:00","o":1400,"w":1100},{"t":"2021-02-25 12:00","o":2500,"w":1900},
      {"t":"2021-02-26 00:00","o":1350,"w":1100},{"t":"2021-02-26 12:00","o":2400,"w":1950},
      {"t":"2021-02-27 00:00","o":1350,"w":1100},{"t":"2021-02-27 12:00","o":2350,"w":2000},
      {"t":"2021-02-28 00:00","o":1350,"w":1100},{"t":"2021-02-28 12:00","o":2300,"w":2050},
      {"t":"2021-03-01 00:00","o":1400,"w":1150},{"t":"2021-03-01 12:00","o":2350,"w":2050},
      {"t":"2021-03-02 00:00","o":1350,"w":1100},{"t":"2021-03-02 12:00","o":2350,"w":2050},
      {"t":"2021-03-03 00:00","o":1400,"w":1150},{"t":"2021-03-03 12:00","o":2400,"w":2100},
      {"t":"2021-03-04 00:00","o":1500,"w":1250},{"t":"2021-03-04 12:00","o":2500,"w":2100},
      {"t":"2021-03-05 00:00","o":1600,"w":1350},{"t":"2021-03-05 12:00","o":2600,"w":2150},
      {"t":"2021-03-06 00:00","o":1700,"w":1400},{"t":"2021-03-06 12:00","o":2700,"w":2150},
      {"t":"2021-03-07 00:00","o":1780,"w":1450},{"t":"2021-03-07 12:00","o":2850,"w":2200},
      {"t":"2021-03-08 00:00","o":1800,"w":1500},{"t":"2021-03-08 12:00","o":2900,"w":2200},
      {"t":"2021-03-09 00:00","o":1900,"w":1600},{"t":"2021-03-09 12:00","o":3000,"w":2250},
      {"t":"2021-03-10 00:00","o":1950,"w":1700},{"t":"2021-03-10 05:00","o":3000,"w":2100},
      {"t":"2021-03-10 07:00","o":67,"w":60},{"t":"2021-03-10 12:00","o":62.5,"w":56.7},
      {"t":"2021-03-11 00:00","o":64,"w":58},{"t":"2021-03-11 12:00","o":70,"w":62},
      {"t":"2021-03-12 00:00","o":70,"w":63},{"t":"2021-03-12 12:00","o":77,"w":67},
      {"t":"2021-03-13 00:00","o":80,"w":71},{"t":"2021-03-13 12:00","o":88,"w":76},
      {"t":"2021-03-14 00:00","o":92,"w":80},{"t":"2021-03-14 12:00","o":100,"w":85},
      {"t":"2021-03-15 00:00","o":105,"w":90},{"t":"2021-03-15 12:00","o":114,"w":95},
      {"t":"2021-03-16 00:00","o":118,"w":100},{"t":"2021-03-16 12:00","o":128,"w":106},
      {"t":"2021-03-17 00:00","o":132,"w":110},{"t":"2021-03-17 12:00","o":143,"w":117},
      {"t":"2021-03-18 00:00","o":150,"w":125},{"t":"2021-03-18 12:00","o":162,"w":133},
      {"t":"2021-03-19 00:00","o":172,"w":142},{"t":"2021-03-19 12:00","o":185,"w":150},
      {"t":"2021-03-20 00:00","o":195,"w":158},{"t":"2021-03-20 12:00","o":210,"w":168},
      {"t":"2021-03-21 00:00","o":225,"w":180},{"t":"2021-03-21 12:00","o":242,"w":192},
      {"t":"2021-03-22 00:00","o":255,"w":205},{"t":"2021-03-22 12:00","o":275,"w":218},
      {"t":"2021-03-23 00:00","o":290,"w":240},{"t":"2021-03-23 12:00","o":310,"w":252},
      {"t":"2021-03-24 00:00","o":310,"w":265},{"t":"2021-03-24 12:00","o":335,"w":278},
      {"t":"2021-03-25 00:00","o":350,"w":290},{"t":"2021-03-25 12:00","o":400,"w":305},
      {"t":"2021-03-26 00:00","o":450,"w":320},{"t":"2021-03-26 12:00","o":480,"w":335},
      {"t":"2021-03-27 00:00","o":500,"w":340},{"t":"2021-03-27 12:00","o":530,"w":355},
      {"t":"2021-03-28 00:00","o":530,"w":365},{"t":"2021-03-28 12:00","o":565,"w":380},
      {"t":"2021-03-29 00:00","o":570,"w":390},{"t":"2021-03-29 12:00","o":605,"w":402},
      {"t":"2021-03-30 00:00","o":610,"w":410},{"t":"2021-03-30 12:00","o":650,"w":428},
      {"t":"2021-03-31 00:00","o":660,"w":440},{"t":"2021-03-31 12:00","o":710,"w":460},
      {"t":"2021-04-01 00:00","o":720,"w":480},{"t":"2021-04-01 12:00","o":780,"w":500},
      {"t":"2021-04-02 00:00","o":800,"w":510},{"t":"2021-04-02 12:00","o":860,"w":530},
      {"t":"2021-04-03 00:00","o":880,"w":550},{"t":"2021-04-03 12:00","o":940,"w":570},
      {"t":"2021-04-04 00:00","o":930,"w":585},{"t":"2021-04-04 12:00","o":990,"w":600},
      {"t":"2021-04-05 00:00","o":950,"w":590},{"t":"2021-04-05 12:00","o":1000,"w":600},
      {"t":"2021-04-06 00:00","o":960,"w":575},{"t":"2021-04-06 07:00","o":990,"w":566},
      {"t":"2021-04-06 14:00","o":475,"w":440},{"t":"2021-04-07 05:00","o":200,"w":180},
      {"t":"2021-04-07 14:00","o":117,"w":102},{"t":"2021-04-07 21:00","o":100,"w":90},
      {"t":"2021-04-07 23:00","o":14.5,"w":14},{"t":"2021-04-08 07:00","o":13.5,"w":13},
      {"t":"2021-04-09 00:00","o":22,"w":20},{"t":"2021-04-09 22:00","o":27.1,"w":25.3},
      {"t":"2021-04-11 00:00","o":30,"w":28},{"t":"2021-04-12 14:00","o":33.5,"w":31.2},
      {"t":"2021-04-14 00:00","o":36.5,"w":34},{"t":"2021-04-15 22:00","o":39.8,"w":37.2},
      {"t":"2021-04-16 05:00","o":40.3,"w":37.6}
    ]
  },
  "spacing": 20,
  "resolve": {"scale": {"color": "independent"}, "legend": {"color": "independent"}},
  "vconcat": [
    {
      "width": 949,
      "height": 87.3,
      "data": {"name": "rain"},
      "mark": {"type": "rule", "color": "#00008B", "strokeWidth": 1.8, "clip": true},
      "encoding": {
        "x": {"field": "t", "type": "temporal",
              "scale": {"domain": [{"year": 2020, "month": 10, "date": 9, "hours": 22, "minutes": 30}, {"year": 2021, "month": 4, "date": 16, "hours": 5, "minutes": 30}]},
              "axis": null},
        "y": {"field": "p", "type": "quantitative",
              "scale": {"domain": [-0.25, 5.25], "reverse": true, "nice": false, "zero": false},
              "axis": {"values": [0, 1, 2, 3, 4, 5], "labelExpr": "datum.value % 2 == 1 ? datum.label : ''",
                       "title": "P , mm", "labelPadding": 19, "titleX": -106, "titleY": 43.6, "titleAngle": 270,
                       "titleBaseline": "middle", "titleAlign": "center"}},
        "y2": {"datum": 0}
      }
    },
    {
      "width": 949,
      "height": 295,
      "encoding": {
        "x": {"field": "t", "type": "temporal",
              "scale": {"domain": [{"year": 2020, "month": 10, "date": 9, "hours": 22, "minutes": 30}, {"year": 2021, "month": 4, "date": 16, "hours": 5, "minutes": 30}]},
              "axis": {"values": [{"year": 2020, "month": 10, "date": 17}, {"year": 2020, "month": 11, "date": 21}, {"year": 2020, "month": 12, "date": 26},
                                  {"year": 2021, "month": 1, "date": 30}, {"year": 2021, "month": 3, "date": 5}, {"year": 2021, "month": 4, "date": 9}],
                       "format": "%d-%m-%Y", "labelFontSize": 19, "labelPadding": 25, "labelAngle": 0,
                       "title": "Time , dd-mm-yyyy", "titleFontSize": 25, "titlePadding": 34}}
      },
      "layer": [
        {
          "data": {"name": "soil"},
          "mark": {"type": "line", "strokeWidth": 1.2, "clip": true},
          "encoding": {
            "y": {"field": "v", "type": "quantitative",
                  "scale": {"domain": [3.25, 51.7], "nice": false, "zero": false},
                  "axis": {"orient": "right", "values": [10, 20, 30, 40, 50], "title": "T , Celsius / VWC , %",
                           "labelPadding": 15, "titleX": 113.3, "titleY": 147.5, "titleAngle": 270,
                           "titleBaseline": "middle", "titleAlign": "center"}},
            "color": {"datum": "Soil temperature", "type": "nominal",
                      "scale": {"domain": ["Observed", "Walthert & Schleppi (2018)", "Soil temperature", "Volumetric water content"],
                                "range": ["#FF0000", "#0000FF", "#BEBEBE", "#00E000"]},
                      "legend": {"title": null, "orient": "none", "legendX": 407, "legendY": 240, "columns": 2,
                                 "symbolType": "M-2,0H2", "symbolSize": 306, "symbolStrokeWidth": 2, "labelLimit": 400,
                                 "labelFontSize": 18.5, "labelOffset": 23, "columnPadding": 15, "rowPadding": 2.4, "padding": 0}}
          }
        },
        {
          "data": {"name": "vwc"},
          "mark": {"type": "line", "strokeWidth": 1.4, "clip": true},
          "encoding": {
            "y": {"field": "v", "type": "quantitative",
                  "scale": {"domain": [3.25, 51.7], "nice": false, "zero": false}, "axis": null},
            "color": {"datum": "Volumetric water content", "type": "nominal",
                      "scale": {"domain": ["Observed", "Walthert & Schleppi (2018)", "Soil temperature", "Volumetric water content"],
                                "range": ["#FF0000", "#0000FF", "#BEBEBE", "#00E000"]}}
          }
        },
        {
          "data": {"name": "suc"},
          "mark": {"type": "line", "strokeWidth": 1.3, "clip": true},
          "encoding": {
            "y": {"field": "o", "type": "quantitative",
                  "scale": {"type": "log", "domain": [8.46, 4064], "nice": false},
                  "axis": {"orient": "left", "values": [10, 20, 50, 100, 200, 500, 1000, 2000], "format": "d",
                           "title": "Suction head , kPa", "labelPadding": 16.7, "titleX": -106, "titleY": 147.5,
                           "titleAngle": 270, "titleBaseline": "middle", "titleAlign": "center"}},
            "color": {"datum": "Observed", "type": "nominal",
                      "scale": {"domain": ["Observed", "Walthert & Schleppi (2018)", "Soil temperature", "Volumetric water content"],
                                "range": ["#FF0000", "#0000FF", "#BEBEBE", "#00E000"]}}
          }
        },
        {
          "data": {"name": "suc"},
          "mark": {"type": "line", "strokeWidth": 1.3, "clip": true},
          "encoding": {
            "y": {"field": "w", "type": "quantitative",
                  "scale": {"type": "log", "domain": [8.46, 4064], "nice": false}, "axis": null},
            "color": {"datum": "Walthert & Schleppi (2018)", "type": "nominal",
                      "scale": {"domain": ["Observed", "Walthert & Schleppi (2018)", "Soil temperature", "Volumetric water content"],
                                "range": ["#FF0000", "#0000FF", "#BEBEBE", "#00E000"]}}
          }
        }
      ],
      "resolve": {"scale": {"y": "independent"}}
    }
  ]
}
